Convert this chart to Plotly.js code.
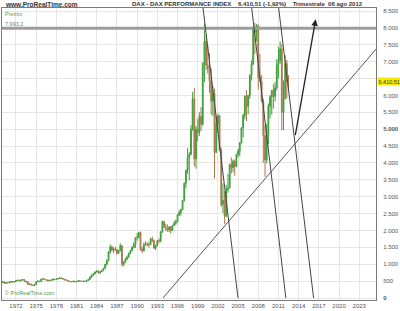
<!DOCTYPE html>
<html><head><meta charset="utf-8">
<script src="https://cdn.plot.ly/plotly-3.0.1.min.js"></script>
<style>html,body{margin:0;padding:0;background:#fff;}#chart{width:400px;height:311px;}</style>
</head><body><div id="chart"></div>
<script>
// Quarterly DAX candles, 1970 Q1 .. 2012 Q3
const startYear = 1970;
const openV = [
470,480,440,455, 445,470,490,470, 490,520,525,510, 536,545,495,480, 400,415,385,370,
401,480,500,485, 563,565,545,530, 509,525,530,560, 549,565,575,600, 575,560,535,520,
498,490,480,500, 480,490,510,500, 490,500,495,520, 552,620,680,720, 774,800,740,780,
820,880,1000,1100, 1366,1510,1420,1450, 1432,1330,1400,1550, 1000,1060,1150,1210, 1328,1400,1500,1590,
1790,1800,1940,1450, 1398,1590,1600,1580, 1578,1750,1700,1480, 1545,1700,1690,1960, 2267,2100,2050,2020,
2107,2000,2150,2210, 2254,2460,2530,2620, 2889,3400,3780,4160, 4250,5000,5900,4120, 5002,4900,5380,5150,
6958,7600,6900,6800, 6434,5830,6060,4310, 5160,5400,4380,2770, 2893,2420,3220,3260, 3965,3860,4050,3890,
4256,4350,4590,5040, 5408,5970,5680,6000, 6597,6920,8000,7860, 8067,6530,6420,5830, 4810,4085,4810,5680,
5957,6150,5970,6230, 6914,7040,7380,5500, 5898,6947,6416];
const highV = [
500,485,465,470, 480,500,495,495, 530,545,530,545, 565,550,505,490, 430,420,395,410,
490,515,510,570, 590,575,555,540, 535,545,570,565, 570,585,610,605, 585,565,545,530,
505,495,505,505, 495,525,515,505, 510,510,525,560, 630,700,735,785, 825,810,790,830,
895,1010,1150,1380, 1590,1560,1500,1520, 1460,1420,1620,1560, 1090,1180,1260,1340, 1420,1540,1650,1800,
1920,1960,1970,1520, 1640,1680,1650,1660, 1780,1820,1730,1580, 1720,1760,1980,2290, 2280,2200,2180,2120,
2130,2160,2290,2320, 2490,2600,2640,2900, 3420,3800,4440,4330, 5120,6100,6220,5100, 5300,5500,5650,6970,
8136,7800,7480,7250, 6800,6280,6200,5400, 5470,5420,4450,3400, 3160,3350,3680,3970, 4160,4100,4100,4270,
4420,4620,5060,5460, 6000,6160,6020,6630, 7040,8060,8150,8120, 8100,7230,6600,5900, 5110,5160,5760,6010,
6160,6340,6390,7080, 7440,7600,7520,6440, 7190,7050,6600];
const lowV = [
455,430,425,435, 440,460,455,465, 485,505,495,505, 525,485,455,390, 390,375,355,360,
395,470,470,480, 550,535,520,500, 500,515,520,540, 540,555,570,565, 550,525,510,490,
480,470,475,470, 470,485,480,480, 485,485,480,510, 545,600,660,700, 760,720,725,770,
810,860,960,1090, 1310,1380,1340,1390, 1280,1300,1390,930, 940,1040,1120,1190, 1300,1390,1470,1480,
1700,1770,1400,1330, 1380,1550,1530,1490, 1570,1650,1450,1420, 1530,1620,1650,1930, 2070,1980,1960,1950,
1900,1990,2130,2160, 2240,2420,2440,2600, 2850,3250,3680,3480, 4230,4950,3900,3830, 4650,4800,4950,5100,
6390,6750,6650,6080, 5430,5380,3540,4300, 4900,4350,2700,2520, 2188,2400,3120,3250, 3690,3720,3620,3880,
4160,4200,4580,4760, 5290,5240,5440,5900, 6440,6900,7230,7600, 6170,6400,5790,4010, 3588,3990,4550,5320,
5430,5610,5820,6150, 6510,6940,4970,4970, 5900,5910,6140];
const closeV = [
480,440,455,445, 470,490,470,490, 520,525,510,536, 545,495,480,400, 415,385,370,401,
480,500,485,563, 565,545,530,509, 525,530,560,549, 565,575,600,575, 560,535,520,498,
490,480,500,480, 490,510,500,490, 500,495,520,552, 620,680,720,774, 800,740,780,820,
880,1000,1100,1366, 1510,1420,1450,1432, 1330,1400,1550,1000, 1060,1150,1210,1328, 1400,1500,1590,1790,
1800,1940,1450,1398, 1590,1600,1580,1578, 1750,1700,1480,1545, 1700,1690,1960,2267, 2100,2050,2020,2107,
2000,2150,2210,2254, 2460,2530,2620,2889, 3400,3780,4160,4250, 5000,5900,4120,5002, 4900,5380,5150,6958,
7600,6900,6800,6434, 5830,6060,4310,5160, 5400,4380,2770,2893, 2420,3220,3260,3965, 3860,4050,3890,4256,
4350,4590,5040,5408, 5970,5680,6000,6597, 6920,8000,7860,8067, 6530,6420,5830,4810, 4085,4810,5680,5957,
6150,5970,6230,6914, 7040,7380,5500,5898, 6947,6416,6410];

// axis ticks
const xTickYears = [1972,1975,1978,1981,1984,1987,1990,1993,1996,1999,2002,2005,2008,2011,2014,2017,2020,2023];
const yTickVals = [0,500,1000,1500,2000,2500,3000,3500,4000,4500,5000,5500,6000,6500,7000,7500,8000,8500];
// 6.500 sits under the yellow last-price label, as in the original
const yTickText = ['<b>0</b>','500','1.000','1.500','2.000','2.500','3.000','3.500','4.000','4.500','<b>5.000</b>','5.500','6.000','','7.000','7.500','8.000','8.500'];

// drawn objects (decimal year, value)
const levelLine = 7993.2;
const lastPrice = 6410.51;
const supportLine = [[1993.84, 0], [2025.6, 7396]];
const downLines = [
  [[1999.79, 8590], [2004.99, 0]],
  [[2007.02, 8590], [2012.10, 0]],
  [[2011.03, 8590], [2016.22, 0]]
];
const arrowPts = [[2013.46, 4778], [2016.53, 8255]];

function decToDate(d){
  const y = Math.floor(d), f = d - y;
  const s = Date.UTC(y,0,1), e = Date.UTC(y+1,0,1);
  return new Date(s + f*(e-s)).toISOString().slice(0,19).replace('T',' ');
}
const dates = closeV.map((_, i) => {
  const y = startYear + Math.floor(i/4), m = (i%4)*3 + 1;
  return y + '-' + String(m).padStart(2,'0') + '-01';
});

const trace = {
  type: 'candlestick', x: dates, open: openV, high: highV, low: lowV, close: closeV,
  increasing: {line: {color: '#3f9e3a', width: 1}, fillcolor: '#52b348'},
  decreasing: {line: {color: '#a8784c', width: 1}, fillcolor: '#c08a55'},
  whiskerwidth: 0, hoverinfo: 'skip', showlegend: false
};

const W = 374, H = 292, L = 2, T = 8;
const px = v => (v - L) / W, py = v => (T + H - v) / H;
const font = 'Liberation Sans, Arial, sans-serif';

const shapes = [
  {type:'line', xref:'paper', yref:'y', x0:0, x1:1, y0:levelLine, y1:levelLine, line:{color:'#9c9c9c', width:3}},
  {type:'line', xref:'x', yref:'y', x0:decToDate(supportLine[0][0]), y0:supportLine[0][1], x1:decToDate(supportLine[1][0]), y1:supportLine[1][1], line:{color:'#555', width:1}}
];
downLines.forEach(l => shapes.push({type:'line', xref:'x', yref:'y', x0:decToDate(l[0][0]), y0:l[0][1], x1:decToDate(l[1][0]), y1:l[1][1], line:{color:'#444', width:1}}));

const layout = {
  width: 400, height: 311,
  margin: {l: L, r: 400 - L - W, t: T, b: 311 - T - H, pad: 0},
  paper_bgcolor: '#fff', plot_bgcolor: '#fff',
  font: {family: font, size: 6, color: '#444'},
  showlegend: false,
  xaxis: {
    type: 'date', range: [decToDate(1969.92), decToDate(2025.49)],
    rangeslider: {visible: false},
    tickmode: 'array', tickvals: xTickYears.map(y => y + '-01-01'), ticktext: xTickYears.map(String),
    showgrid: true, gridcolor: '#e6e6e6', gridwidth: 1,
    showline: true, linecolor: '#7a7a7a', linewidth: 1, mirror: true,
    ticks: '', tickfont: {size: 6, color: '#555'}, zeroline: false, fixedrange: true
  },
  yaxis: {
    side: 'right', range: [-59, 8590],
    tickmode: 'array', tickvals: yTickVals, ticktext: yTickText,
    showgrid: true, gridcolor: '#e6e6e6', gridwidth: 1,
    showline: true, linecolor: '#7a7a7a', linewidth: 1, mirror: true,
    ticks: '', ticklabelstandoff: 5, tickfont: {size: 6, color: '#555'}, zeroline: false, fixedrange: true
  },
  shapes: shapes,
  annotations: [
    {xref:'paper', yref:'paper', x:px(3), y:py(4.5), xanchor:'left', yanchor:'middle', showarrow:false,
     text:'<b>www.ProRealTime.com</b>', font:{size:6.5, color:'#333', family:font}},
    {xref:'paper', yref:'paper', x:px(130), y:py(4.5), xanchor:'left', yanchor:'middle', showarrow:false,
     text:'<b>DAX - DAX PERFORMANCE INDEX    6.410,51 (-1,92%)    Trimestrale  06 ago 2012</b>', font:{size:6, color:'#333', family:font}},
    {xref:'paper', yref:'paper', x:px(3), y:py(13.5), xanchor:'left', yanchor:'middle', showarrow:false,
     text:'Prezzo', font:{size:5.5, color:'#5f9a3c', family:font}},
    {xref:'paper', yref:'paper', x:px(3), y:py(24.5), xanchor:'left', yanchor:'middle', showarrow:false,
     text:'7.993,2', font:{size:5.5, color:'#6a8a5a', family:font}},
    {xref:'paper', yref:'paper', x:px(3), y:py(293), xanchor:'left', yanchor:'middle', showarrow:false,
     text:'© ProRealTime.com', font:{size:5.5, color:'#4f9a3a', family:font}},
    {xref:'paper', yref:'y', x:1, y:lastPrice, xanchor:'left', yanchor:'middle', xshift:1, showarrow:false,
     text:'6.410,51', bgcolor:'#f7ec00', borderpad:0.5, font:{size:5.5, color:'#333', family:font}},
    {xref:'x', yref:'y', axref:'x', ayref:'y', x:decToDate(arrowPts[1][0]), y:arrowPts[1][1],
     ax:decToDate(arrowPts[0][0]), ay:arrowPts[0][1], text:'', showarrow:true,
     arrowhead:2, arrowsize:1, arrowwidth:1.3, arrowcolor:'#222'}
  ]
};

Plotly.newPlot('chart', [trace], layout, {staticPlot: true, displayModeBar: false});
</script></body></html>
